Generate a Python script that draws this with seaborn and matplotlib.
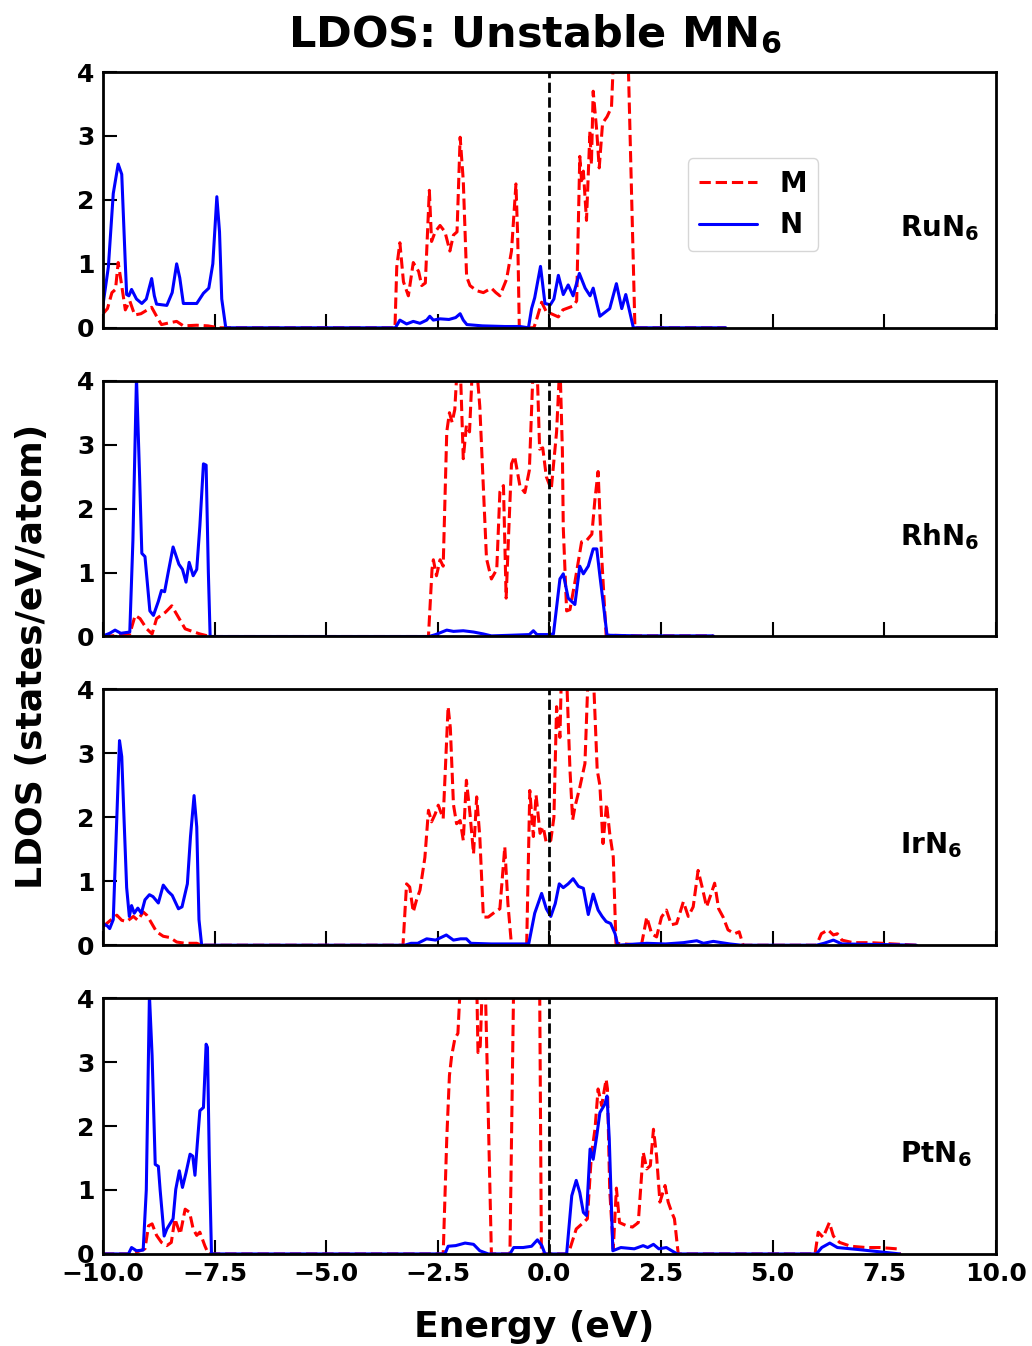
import matplotlib
matplotlib.use('Agg')
import matplotlib.pyplot as plt
import seaborn as sns
import pandas as pd

# ---------------- data (energy in eV, LDOS in states/eV/atom) ----------------
compounds = ['RuN$_6$', 'RhN$_6$', 'IrN$_6$', 'PtN$_6$']
xticks = [-10.0, -7.5, -5.0, -2.5, 0.0, 2.5, 5.0, 7.5, 10.0]
yticks = [0, 1, 2, 3, 4]

ru_M = [(-10.0, 0.22), (-9.9, 0.3), (-9.8, 0.55), (-9.72, 0.6), (-9.66, 1.02), (-9.6, 0.75), (-9.5, 0.28),
        (-9.4, 0.42), (-9.29, 0.2), (-9.15, 0.22), (-8.91, 0.32), (-8.76, 0.13), (-8.69, 0.05), (-8.5, 0.08),
        (-8.35, 0.1), (-8.2, 0.03), (-7.9, 0.04), (-7.65, 0.03), (-7.4, 0.0), (-3.46, 0.0), (-3.42, 0.95),
        (-3.35, 1.33), (-3.27, 0.72), (-3.16, 0.5), (-3.05, 1.02), (-2.93, 0.88), (-2.86, 0.66), (-2.78, 0.7),
        (-2.69, 2.15), (-2.64, 1.35), (-2.56, 1.5), (-2.45, 1.6), (-2.34, 1.5), (-2.23, 1.2), (-2.15, 1.45),
        (-2.07, 1.5), (-2.0, 2.98), (-1.93, 2.3), (-1.855, 0.8), (-1.78, 0.66), (-1.63, 0.58), (-1.48, 0.55),
        (-1.3, 0.62), (-1.2, 0.55), (-1.11, 0.5), (-0.96, 0.76), (-0.85, 1.2), (-0.75, 2.25), (-0.71, 1.4),
        (-0.675, 0.0), (-0.35, 0.0), (-0.3, 0.1), (-0.175, 0.4), (-0.07, 0.25), (0.04, 0.22), (0.2, 0.17),
        (0.3, 0.28), (0.53, 0.34), (0.61, 0.42), (0.68, 2.68), (0.72, 2.3), (0.76, 2.45), (0.83, 1.68),
        (0.907, 3.07), (0.94, 2.55), (0.98, 3.7), (1.057, 3.1), (1.115, 2.5), (1.19, 3.2), (1.29, 3.3),
        (1.39, 3.45), (1.44, 4.3), (1.6, 5.0), (1.76, 4.3), (1.915, 0.0), (2.5, 0.0), (3.95, 0.0)]
ru_N = [(-10.0, 0.36), (-9.88, 0.95), (-9.77, 2.1), (-9.66, 2.56), (-9.58, 2.4), (-9.5, 1.0), (-9.47, 0.52),
        (-9.42, 0.5), (-9.36, 0.6), (-9.25, 0.45), (-9.13, 0.38), (-9.03, 0.45), (-8.91, 0.77), (-8.85, 0.5),
        (-8.8, 0.37), (-8.57, 0.35), (-8.45, 0.55), (-8.35, 1.0), (-8.28, 0.78), (-8.2, 0.38), (-7.9, 0.38),
        (-7.75, 0.54), (-7.63, 0.62), (-7.54, 1.0), (-7.45, 2.05), (-7.39, 1.5), (-7.34, 0.45), (-7.25, 0.0),
        (-3.45, 0.0), (-3.35, 0.12), (-3.2, 0.06), (-3.05, 0.1), (-2.9, 0.07), (-2.75, 0.12), (-2.68, 0.18),
        (-2.6, 0.12), (-2.45, 0.14), (-2.25, 0.13), (-2.1, 0.16), (-2.0, 0.22), (-1.93, 0.12), (-1.85, 0.05),
        (-1.5, 0.03), (-1.0, 0.02), (-0.66, 0.02), (-0.47, 0.0), (-0.4, 0.3), (-0.33, 0.47), (-0.2, 0.96),
        (-0.1, 0.38), (0.02, 0.36), (0.1, 0.45), (0.2, 0.82), (0.31, 0.52), (0.42, 0.67), (0.53, 0.5),
        (0.67, 0.85), (0.8, 0.62), (0.91, 0.5), (0.98, 0.62), (1.13, 0.18), (1.35, 0.3), (1.5, 0.69),
        (1.62, 0.3), (1.71, 0.52), (1.88, 0.0), (2.5, 0.0), (3.95, 0.0)]

rh_M = [(-10.0, 0.0), (-9.6, 0.02), (-9.4, 0.04), (-9.28, 0.33), (-9.17, 0.28), (-9.02, 0.12), (-8.9, 0.04),
        (-8.8, 0.28), (-8.6, 0.38), (-8.46, 0.48), (-8.31, 0.3), (-8.16, 0.12), (-8.0, 0.08), (-7.83, 0.04),
        (-7.6, 0.0), (-2.71, 0.0), (-2.63, 1.05), (-2.6, 1.2), (-2.53, 0.95), (-2.45, 1.2), (-2.38, 1.1),
        (-2.3, 3.2), (-2.24, 3.5), (-2.18, 3.35), (-2.12, 3.55), (-2.06, 4.3), (-2.0, 4.3), (-1.93, 2.78),
        (-1.86, 3.3), (-1.79, 3.2), (-1.72, 4.3), (-1.64, 4.3), (-1.56, 3.6), (-1.41, 1.22), (-1.3, 0.9),
        (-1.18, 1.05), (-1.11, 2.26), (-1.03, 2.36), (-0.97, 0.6), (-0.92, 1.5), (-0.85, 2.7), (-0.78, 2.82),
        (-0.66, 2.35), (-0.55, 2.25), (-0.45, 2.6), (-0.36, 4.3), (-0.28, 4.3), (-0.22, 2.93), (-0.15, 2.95),
        (-0.07, 2.5), (0.04, 2.3), (0.16, 3.2), (0.235, 4.3), (0.29, 2.9), (0.31, 1.7), (0.385, 0.4),
        (0.46, 0.42), (0.57, 0.85), (0.72, 1.48), (0.83, 1.5), (0.95, 1.6), (1.02, 2.15), (1.09, 2.58),
        (1.17, 1.25), (1.27, 0.02), (2.0, 0.01), (3.67, 0.01)]
rh_N = [(-10.0, 0.0), (-9.96, 0.02), (-9.85, 0.05), (-9.73, 0.1), (-9.6, 0.05), (-9.4, 0.07), (-9.33, 1.5),
        (-9.25, 4.05), (-9.18, 2.5), (-9.13, 1.3), (-9.06, 1.25), (-8.95, 0.4), (-8.87, 0.33), (-8.76, 0.55),
        (-8.69, 0.72), (-8.62, 0.7), (-8.54, 1.0), (-8.43, 1.4), (-8.3, 1.13), (-8.22, 1.05), (-8.14, 0.85),
        (-8.07, 1.16), (-7.98, 0.95), (-7.9, 1.05), (-7.83, 1.73), (-7.75, 2.7), (-7.69, 2.68), (-7.64, 1.0),
        (-7.6, 0.0), (-2.7, 0.0), (-2.55, 0.03), (-2.3, 0.1), (-2.15, 0.08), (-1.93, 0.09), (-1.7, 0.07),
        (-1.48, 0.04), (-1.3, 0.01), (-0.85, 0.02), (-0.45, 0.03), (-0.36, 0.09), (-0.28, 0.03), (-0.02, 0.03),
        (0.09, 0.04), (0.235, 0.9), (0.31, 0.98), (0.42, 0.6), (0.57, 0.5), (0.68, 1.1), (0.76, 0.98),
        (0.87, 1.1), (0.98, 1.37), (1.06, 1.37), (1.13, 0.95), (1.2, 0.55), (1.29, 0.02), (2.0, 0.01),
        (3.67, 0.01)]

ir_M = [(-10.0, 0.29), (-9.85, 0.38), (-9.69, 0.47), (-9.58, 0.39), (-9.47, 0.37), (-9.32, 0.45), (-9.22, 0.39),
        (-9.1, 0.52), (-9.02, 0.47), (-8.95, 0.39), (-8.8, 0.21), (-8.65, 0.14), (-8.5, 0.12), (-8.35, 0.05),
        (-8.16, 0.03), (-7.9, 0.03), (-7.79, 0.0), (-3.28, 0.0), (-3.2, 0.96), (-3.13, 0.91), (-3.05, 0.52),
        (-2.98, 0.7), (-2.9, 0.86), (-2.79, 1.37), (-2.71, 2.11), (-2.64, 1.93), (-2.56, 2.05), (-2.49, 2.19),
        (-2.38, 1.98), (-2.27, 3.73), (-2.22, 3.4), (-2.15, 2.2), (-2.08, 1.9), (-2.0, 1.95), (-1.93, 1.64),
        (-1.86, 2.58), (-1.78, 2.06), (-1.7, 1.43), (-1.63, 2.32), (-1.56, 1.7), (-1.48, 0.44), (-1.37, 0.44),
        (-1.22, 0.52), (-1.11, 0.57), (-1.0, 1.54), (-0.93, 0.65), (-0.85, 0.0), (-0.51, 0.0), (-0.44, 2.42),
        (-0.36, 1.7), (-0.3, 2.35), (-0.21, 1.75), (-0.14, 1.85), (-0.07, 1.6), (0.03, 1.64), (0.1, 2.0),
        (0.16, 3.73), (0.235, 3.25), (0.27, 4.3), (0.38, 4.3), (0.46, 2.74), (0.52, 1.96), (0.57, 2.16),
        (0.68, 2.47), (0.795, 2.84), (0.87, 4.3), (0.98, 4.3), (1.07, 2.74), (1.13, 2.5), (1.2, 1.59),
        (1.28, 2.21), (1.35, 1.75), (1.43, 1.38), (1.49, 0.03), (2.06, 0.0), (2.18, 0.44), (2.29, 0.18),
        (2.4, 0.13), (2.51, 0.44), (2.62, 0.55), (2.73, 0.32), (2.85, 0.34), (3.0, 0.68), (3.11, 0.45),
        (3.22, 0.6), (3.33, 1.17), (3.42, 0.91), (3.52, 0.6), (3.62, 0.8), (3.7, 0.97), (3.79, 0.57),
        (3.89, 0.44), (4.0, 0.24), (4.15, 0.18), (4.25, 0.21), (4.34, 0.0), (5.98, 0.0), (6.09, 0.18),
        (6.24, 0.24), (6.36, 0.16), (6.45, 0.18), (6.55, 0.08), (6.8, 0.04), (7.2, 0.04), (7.7, 0.02),
        (8.22, 0.0)]
ir_N = [(-10.0, 0.34), (-9.9, 0.3), (-9.85, 0.26), (-9.77, 0.4), (-9.7, 1.8), (-9.63, 3.2), (-9.58, 2.95),
        (-9.53, 2.0), (-9.47, 0.9), (-9.41, 0.45), (-9.36, 0.62), (-9.3, 0.5), (-9.22, 0.58), (-9.14, 0.5),
        (-9.06, 0.71), (-8.96, 0.79), (-8.88, 0.76), (-8.76, 0.66), (-8.65, 0.94), (-8.54, 0.84), (-8.45, 0.78),
        (-8.31, 0.57), (-8.23, 0.6), (-8.11, 0.96), (-8.04, 1.7), (-7.96, 2.34), (-7.9, 1.85), (-7.85, 0.4),
        (-7.79, 0.0), (-3.24, 0.0), (-3.1, 0.03), (-2.95, 0.03), (-2.75, 0.1), (-2.55, 0.08), (-2.31, 0.16),
        (-2.15, 0.08), (-1.99, 0.1), (-1.86, 0.1), (-1.76, 0.03), (-1.3, 0.02), (-0.51, 0.02), (-0.47, 0.0),
        (-0.33, 0.5), (-0.175, 0.81), (-0.07, 0.57), (0.03, 0.45), (0.13, 0.65), (0.22, 0.96), (0.31, 0.9),
        (0.42, 0.96), (0.53, 1.04), (0.65, 0.92), (0.76, 0.89), (0.87, 0.48), (0.98, 0.8), (1.09, 0.55),
        (1.18, 0.45), (1.27, 0.37), (1.37, 0.34), (1.47, 0.18), (1.53, 0.0), (2.18, 0.03), (2.6, 0.02),
        (3.0, 0.04), (3.3, 0.07), (3.45, 0.03), (3.67, 0.06), (4.04, 0.02), (4.3, 0.0), (5.98, 0.0),
        (6.15, 0.03), (6.36, 0.08), (6.55, 0.02), (7.5, 0.01), (8.22, 0.0)]

pt_M = [(-10.0, 0.0), (-9.36, 0.0), (-9.06, 0.08), (-8.98, 0.44), (-8.9, 0.47), (-8.8, 0.29), (-8.69, 0.18),
        (-8.57, 0.13), (-8.47, 0.18), (-8.39, 0.55), (-8.27, 0.31), (-8.16, 0.7), (-8.06, 0.65), (-7.98, 0.39),
        (-7.9, 0.29), (-7.83, 0.34), (-7.72, 0.13), (-7.64, 0.0), (-2.38, 0.0), (-2.3, 1.8), (-2.24, 2.79),
        (-2.19, 3.1), (-2.12, 3.36), (-2.05, 3.45), (-1.99, 4.3), (-1.85, 5.0), (-1.63, 4.3), (-1.6, 3.15),
        (-1.55, 3.25), (-1.5, 4.3), (-1.44, 4.3), (-1.4, 3.1), (-1.3, 0.0), (-0.885, 0.0), (-0.8, 4.3),
        (-0.5, 6.0), (-0.22, 4.3), (-0.18, 0.0), (0.385, 0.0), (0.45, 0.06), (0.6, 0.39), (0.76, 0.49),
        (0.85, 0.55), (0.94, 1.55), (1.02, 1.95), (1.09, 2.58), (1.17, 2.32), (1.27, 2.73), (1.3, 2.58),
        (1.35, 1.0), (1.43, 0.08), (1.5, 1.03), (1.57, 0.49), (1.73, 0.44), (1.86, 0.42), (1.99, 0.49),
        (2.1, 1.59), (2.18, 1.33), (2.26, 1.38), (2.33, 1.95), (2.4, 1.53), (2.475, 0.81), (2.59, 1.07),
        (2.66, 0.81), (2.74, 0.65), (2.8, 0.55), (2.885, 0.0), (5.95, 0.0), (6.02, 0.34), (6.13, 0.26),
        (6.27, 0.49), (6.36, 0.28), (6.5, 0.18), (6.75, 0.12), (7.1, 0.1), (7.4, 0.1), (7.78, 0.08),
        (7.85, 0.0)]
pt_N = [(-10.0, 0.0), (-9.43, 0.0), (-9.36, 0.1), (-9.25, 0.05), (-9.1, 0.06), (-9.03, 1.0), (-8.96, 4.05),
        (-8.9, 3.1), (-8.83, 1.4), (-8.76, 1.37), (-8.72, 1.0), (-8.63, 0.28), (-8.57, 0.39), (-8.5, 0.47),
        (-8.43, 0.55), (-8.37, 1.01), (-8.29, 1.3), (-8.22, 1.04), (-8.14, 1.27), (-8.05, 1.56), (-7.99, 1.53),
        (-7.94, 1.23), (-7.89, 1.7), (-7.83, 2.24), (-7.75, 2.29), (-7.69, 3.28), (-7.66, 3.23), (-7.62, 1.53),
        (-7.57, 0.0), (-2.34, 0.0), (-2.27, 0.12), (-2.1, 0.13), (-1.89, 0.17), (-1.7, 0.15), (-1.56, 0.05),
        (-1.37, 0.0), (-0.885, 0.0), (-0.8, 0.1), (-0.59, 0.1), (-0.4, 0.12), (-0.27, 0.22), (-0.17, 0.13),
        (-0.1, 0.0), (0.385, 0.0), (0.5, 0.91), (0.6, 1.15), (0.68, 0.96), (0.76, 0.65), (0.83, 0.6),
        (0.91, 1.64), (0.98, 1.48), (1.06, 1.85), (1.13, 2.21), (1.24, 2.34), (1.29, 2.47), (1.34, 1.8),
        (1.42, 0.05), (1.6, 0.1), (1.9, 0.08), (2.1, 0.13), (2.2, 0.1), (2.33, 0.15), (2.45, 0.08),
        (2.62, 0.1), (2.86, 0.0), (5.98, 0.0), (6.1, 0.1), (6.28, 0.17), (6.45, 0.1), (6.9, 0.07),
        (7.85, 0.0)]

M_series = [ru_M, rh_M, ir_M, pt_M]
N_series = [ru_N, rh_N, ir_N, pt_N]

# ---------------- style ----------------
sns.set_style('ticks')
plt.rcParams['font.family'] = ['DejaVu Sans']
plt.rcParams['font.weight'] = 'bold'
plt.rcParams['axes.labelweight'] = 'bold'
plt.rcParams['mathtext.default'] = 'bf'
plt.rcParams['text.color'] = 'black'
plt.rcParams['axes.labelcolor'] = 'black'
plt.rcParams['xtick.color'] = 'black'
plt.rcParams['ytick.color'] = 'black'
plt.rcParams['axes.edgecolor'] = 'black'

fig, axes = plt.subplots(4, 1, figsize=(10.32, 13.46), dpi=100, sharex=True)
fig.subplots_adjust(left=0.0998, right=0.965, top=0.9465, bottom=0.0684, hspace=0.207)

for i, (ax, name, M, N) in enumerate(zip(axes, compounds, M_series, N_series)):
    dfM = pd.DataFrame(M, columns=['Energy', 'LDOS'])
    dfN = pd.DataFrame(N, columns=['Energy', 'LDOS'])
    sns.lineplot(data=dfM, x='Energy', y='LDOS', ax=ax, color='#ff0000', linestyle='--',
                 linewidth=2.2, label='M', estimator=None, sort=False)
    sns.lineplot(data=dfN, x='Energy', y='LDOS', ax=ax, color='#0000ff', linestyle='-',
                 linewidth=2.2, label='N', estimator=None, sort=False)
    ax.axvline(0, color='black', linestyle='--', linewidth=2)
    ax.set_xlim(-10, 10)
    ax.set_ylim(0, 4)
    ax.set_xticks(xticks)
    ax.set_yticks(yticks)
    ax.set_xlabel('')
    ax.set_ylabel('')
    ax.tick_params(direction='in', length=10, width=1.5, labelsize=18, pad=6,
                   top=False, right=False, colors='black')
    for sp in ax.spines.values():
        sp.set_visible(True)
        sp.set_linewidth(2)
        sp.set_color('black')
    ax.text(0.893, 0.39, name, transform=ax.transAxes, fontsize=20,
            fontweight='bold', ha='left', va='center', color='black')
    leg = ax.get_legend()
    if leg is not None:
        leg.remove()
    if i == 0:
        ax.legend(loc='center', bbox_to_anchor=(0.728, 0.482), fontsize=20,
                  frameon=True, handlelength=2.1)

fig.text(0.518, 0.9745, 'LDOS: Unstable MN$_6$', ha='center', va='center',
         fontsize=31, fontweight='bold', color='black')
fig.text(0.031, 0.5126, 'LDOS (states/eV/atom)', ha='center', va='center',
         rotation=90, fontsize=26, fontweight='bold', color='black')
fig.text(0.518, 0.0141, 'Energy (eV)', ha='center', va='center',
         fontsize=26, fontweight='bold', color='black')

fig.savefig('out.png', dpi=100)
